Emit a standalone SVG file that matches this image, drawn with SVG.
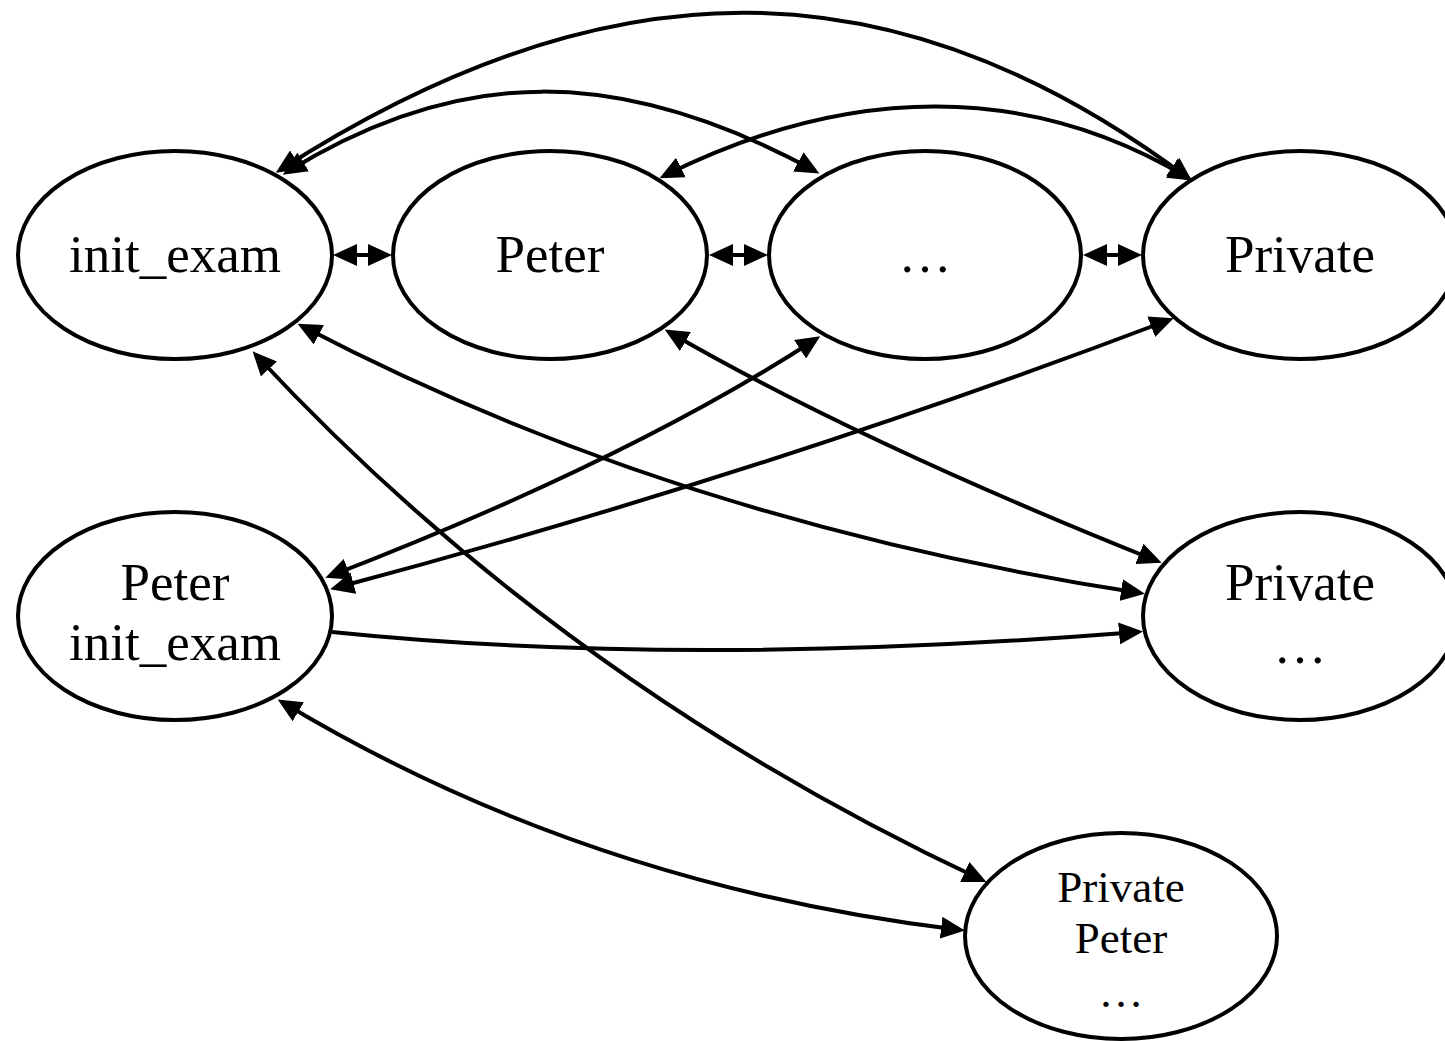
<svg xmlns="http://www.w3.org/2000/svg" width="1445" height="1041" viewBox="0 0 1445 1041">
  <style>
    .node ellipse { fill: #ffffff; stroke: #000000; stroke-width: 4; }
    .node text { font-family: "Liberation Serif", "Times New Roman", serif; fill: #000000; text-anchor: middle; }
    .big { font-size: 53px; }
    .small { font-size: 45px; }
    .edge { fill: none; stroke: #000000; stroke-width: 4; }
    .bi { marker-start: url(#arrow); marker-end: url(#arrow); }
    .uni { marker-end: url(#arrow); }
  </style>
  <defs>
    <marker id="arrow" viewBox="0 0 24 22" markerUnits="userSpaceOnUse" markerWidth="24" markerHeight="22" refX="19" refY="11" orient="auto-start-reverse">
      <path d="M0,0 L24,11 L0,22 z" fill="#000000"/>
    </marker>
  </defs>
  <rect width="1445" height="1041" fill="#ffffff"/>

  <!-- nodes -->
  <g id="node-init-exam" class="node">
    <ellipse cx="175" cy="255" rx="157" ry="104"/>
    <text class="big" x="175" y="272">init_exam</text>
  </g>
  <g id="node-peter" class="node">
    <ellipse cx="550" cy="255" rx="157" ry="104"/>
    <text class="big" x="550" y="272">Peter</text>
  </g>
  <g id="node-more" class="node">
    <ellipse cx="925" cy="255" rx="156" ry="104"/>
    <text class="big" x="925" y="272">…</text>
  </g>
  <g id="node-private" class="node">
    <ellipse cx="1300" cy="255" rx="157" ry="104"/>
    <text class="big" x="1300" y="272">Private</text>
  </g>
  <g id="node-peter-init-exam" class="node">
    <ellipse cx="175" cy="616" rx="157" ry="104"/>
    <text class="big" x="175" y="600">Peter</text>
    <text class="big" x="175" y="660">init_exam</text>
  </g>
  <g id="node-private-more" class="node">
    <ellipse cx="1300" cy="616" rx="157" ry="104"/>
    <text class="big" x="1300" y="600">Private</text>
    <text class="big" x="1300" y="663">…</text>
  </g>
  <g id="node-private-peter-more" class="node">
    <ellipse cx="1121" cy="936" rx="156" ry="103"/>
    <text class="small" x="1121" y="902">Private</text>
    <text class="small" x="1121" y="953">Peter</text>
    <text class="small" x="1121" y="1007">…</text>
  </g>

  <!-- connectors -->
  <g id="edges">
    <!-- neighbours in the top row -->
    <path class="edge bi" d="M338,255 L387,255"/>
    <path class="edge bi" d="M714,255 L763,255"/>
    <path class="edge bi" d="M1088,255 L1137,255"/>
    <!-- arcs over the top row -->
    <path class="edge bi" d="M280,170 C608,-41 896,-41 1188,178"/>
    <path class="edge bi" d="M287,172 C460,65 620,65 815,171"/>
    <path class="edge bi" d="M664,176 C850,83 1030,83 1188,178"/>
    <!-- crossings between the rows -->
    <path class="edge bi" d="M302,326 Q677,522 1140,593"/>
    <path class="edge bi" d="M256,355 Q561,683 982,880"/>
    <path class="edge bi" d="M669,332 Q857,441 1157,561"/>
    <path class="edge bi" d="M816,339 Q628,461 330,576"/>
    <path class="edge bi" d="M1169,320 Q760,475 335,588"/>
    <path class="edge uni" d="M332,632 Q680,668 1138,632"/>
    <path class="edge bi" d="M282,702 Q586,885 960,930"/>
  </g>
</svg>
